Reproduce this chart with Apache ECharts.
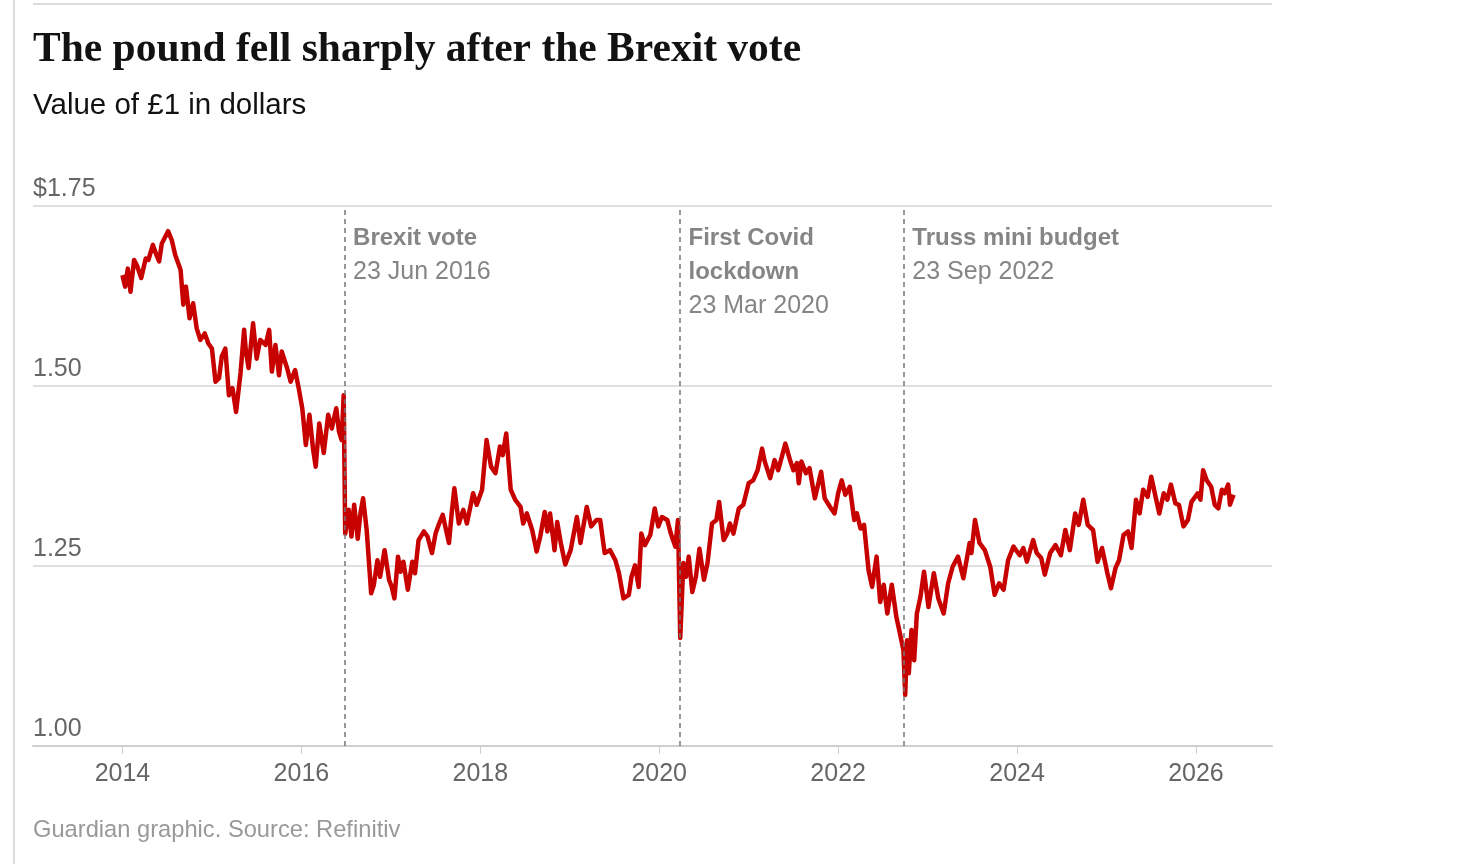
<!DOCTYPE html>
<html>
<head>
<meta charset="utf-8">
<title>The pound fell sharply after the Brexit vote</title>
<script src="https://cdn.jsdelivr.net/npm/echarts@6/dist/echarts.min.js"></script>
<style>
  html, body { margin: 0; padding: 0; background: #fff; }
  #chart { width: 1480px; height: 864px; }
</style>
</head>
<body>
<div id="chart"></div>
<script>
// decimal years
const years = [
  2014.00, 2014.03, 2014.06, 2014.09, 2014.13, 2014.16, 2014.21, 2014.26, 2014.29, 2014.34,
  2014.38, 2014.41, 2014.44, 2014.51, 2014.55, 2014.59, 2014.65, 2014.68, 2014.71, 2014.75,
  2014.79, 2014.83, 2014.87, 2014.92, 2014.96, 2015.00, 2015.04, 2015.08, 2015.11, 2015.15,
  2015.19, 2015.23, 2015.27, 2015.32, 2015.36, 2015.38, 2015.41, 2015.46, 2015.50, 2015.54,
  2015.60, 2015.64, 2015.67, 2015.71, 2015.75, 2015.78, 2015.84, 2015.88, 2015.93, 2015.97,
  2016.01, 2016.05, 2016.09, 2016.13, 2016.16, 2016.20, 2016.25, 2016.30, 2016.34, 2016.39,
  2016.42, 2016.45, 2016.473, 2016.49, 2016.53, 2016.56, 2016.59, 2016.63, 2016.66, 2016.69,
  2016.73, 2016.78, 2016.81, 2016.85, 2016.88, 2016.93, 2016.98, 2017.01, 2017.04, 2017.08,
  2017.11, 2017.14, 2017.19, 2017.24, 2017.27, 2017.31, 2017.37, 2017.41, 2017.46, 2017.50,
  2017.54, 2017.58, 2017.65, 2017.68, 2017.71, 2017.76, 2017.81, 2017.85, 2017.92, 2017.96,
  2018.02, 2018.07, 2018.12, 2018.17, 2018.22, 2018.25, 2018.29, 2018.34, 2018.39, 2018.45,
  2018.48, 2018.52, 2018.58, 2018.63, 2018.67, 2018.72, 2018.75, 2018.78, 2018.83, 2018.86,
  2018.90, 2018.95, 2019.01, 2019.08, 2019.12, 2019.19, 2019.24, 2019.30, 2019.34, 2019.39,
  2019.45, 2019.51, 2019.55, 2019.60, 2019.66, 2019.69, 2019.73, 2019.77, 2019.80, 2019.84,
  2019.90, 2019.95, 2019.99, 2020.03, 2020.09, 2020.13, 2020.18, 2020.21, 2020.235, 2020.27,
  2020.30, 2020.33, 2020.37, 2020.41, 2020.45, 2020.50, 2020.54, 2020.59, 2020.64, 2020.67,
  2020.72, 2020.76, 2020.79, 2020.83, 2020.89, 2020.94, 2021.00, 2021.05, 2021.10, 2021.15,
  2021.18, 2021.24, 2021.29, 2021.33, 2021.41, 2021.46, 2021.50, 2021.54, 2021.56, 2021.59,
  2021.64, 2021.68, 2021.74, 2021.81, 2021.85, 2021.91, 2021.96, 2022.00, 2022.04, 2022.08,
  2022.13, 2022.18, 2022.21, 2022.25, 2022.29, 2022.34, 2022.38, 2022.43, 2022.47, 2022.51,
  2022.55, 2022.60, 2022.65, 2022.69, 2022.73, 2022.75, 2022.77, 2022.79, 2022.82, 2022.85,
  2022.88, 2022.92, 2022.96, 2023.01, 2023.07, 2023.12, 2023.18, 2023.23, 2023.28, 2023.34,
  2023.40, 2023.47, 2023.49, 2023.53, 2023.58, 2023.64, 2023.70, 2023.75, 2023.80, 2023.85,
  2023.90, 2023.96, 2024.03, 2024.07, 2024.11, 2024.18, 2024.22, 2024.27, 2024.31, 2024.37,
  2024.43, 2024.49, 2024.54, 2024.59, 2024.65, 2024.69, 2024.74, 2024.79, 2024.85, 2024.90,
  2024.95, 2025.01, 2025.05, 2025.10, 2025.14, 2025.19, 2025.24, 2025.28, 2025.33, 2025.37,
  2025.41, 2025.46, 2025.50, 2025.54, 2025.59, 2025.64, 2025.68, 2025.72, 2025.77, 2025.81,
  2025.86, 2025.91, 2025.95, 2026.02, 2026.05, 2026.08, 2026.12, 2026.17, 2026.21, 2026.25,
  2026.29, 2026.32, 2026.36, 2026.38, 2026.42
];

// value of £1 in dollars
const rates = [
  1.654, 1.638, 1.663, 1.631, 1.675, 1.668, 1.650, 1.677, 1.675, 1.696,
  1.682, 1.673, 1.698, 1.715, 1.703, 1.682, 1.661, 1.613, 1.638, 1.594,
  1.615, 1.580, 1.564, 1.573, 1.559, 1.552, 1.506, 1.511, 1.541, 1.552,
  1.487, 1.497, 1.464, 1.518, 1.578, 1.548, 1.525, 1.587, 1.538, 1.564,
  1.557, 1.578, 1.520, 1.557, 1.515, 1.548, 1.525, 1.506, 1.522, 1.497,
  1.469, 1.418, 1.460, 1.413, 1.388, 1.448, 1.407, 1.460, 1.441, 1.469,
  1.437, 1.425, 1.487, 1.295, 1.328, 1.291, 1.335, 1.288, 1.323, 1.344,
  1.300, 1.212, 1.224, 1.258, 1.235, 1.272, 1.231, 1.221, 1.205, 1.263,
  1.242, 1.256, 1.217, 1.256, 1.240, 1.286, 1.298, 1.291, 1.268, 1.295,
  1.309, 1.321, 1.282, 1.323, 1.358, 1.309, 1.328, 1.309, 1.351, 1.335,
  1.356, 1.425, 1.388, 1.379, 1.416, 1.404, 1.434, 1.356, 1.342, 1.332,
  1.309, 1.323, 1.300, 1.270, 1.291, 1.325, 1.298, 1.323, 1.272, 1.311,
  1.282, 1.252, 1.272, 1.318, 1.282, 1.332, 1.305, 1.314, 1.314, 1.268,
  1.272, 1.258, 1.240, 1.205, 1.210, 1.235, 1.251, 1.221, 1.295, 1.279,
  1.293, 1.330, 1.305, 1.318, 1.314, 1.295, 1.277, 1.314, 1.150, 1.254,
  1.235, 1.263, 1.214, 1.235, 1.274, 1.231, 1.254, 1.309, 1.314, 1.339,
  1.286, 1.295, 1.309, 1.295, 1.330, 1.335, 1.365, 1.369, 1.383, 1.413,
  1.395, 1.372, 1.397, 1.383, 1.420, 1.398, 1.383, 1.393, 1.365, 1.395,
  1.379, 1.386, 1.344, 1.381, 1.344, 1.332, 1.323, 1.351, 1.369, 1.349,
  1.360, 1.314, 1.323, 1.302, 1.307, 1.244, 1.221, 1.263, 1.200, 1.224,
  1.184, 1.224, 1.180, 1.157, 1.133, 1.071, 1.147, 1.101, 1.161, 1.119,
  1.184, 1.207, 1.242, 1.193, 1.240, 1.205, 1.184, 1.226, 1.249, 1.263,
  1.233, 1.282, 1.268, 1.314, 1.282, 1.272, 1.249, 1.210, 1.226, 1.217,
  1.258, 1.277, 1.265, 1.275, 1.256, 1.286, 1.268, 1.261, 1.238, 1.268,
  1.279, 1.265, 1.300, 1.272, 1.323, 1.307, 1.342, 1.307, 1.300, 1.256,
  1.275, 1.240, 1.219, 1.247, 1.258, 1.293, 1.298, 1.275, 1.342, 1.323,
  1.356, 1.346, 1.374, 1.351, 1.323, 1.351, 1.342, 1.363, 1.337, 1.335,
  1.305, 1.314, 1.339, 1.351, 1.342, 1.383, 1.369, 1.360, 1.335, 1.330,
  1.356, 1.351, 1.363, 1.335, 1.349
];

const yearTicks = [2014, 2016, 2018, 2020, 2022, 2024, 2026];

// events marked with dashed lines
const eventX = [2016.477, 2020.227, 2022.729];
const eventTitles = ['Brexit vote', 'First Covid\nlockdown', 'Truss mini budget'];
const eventDates = ['23 Jun 2016', '23 Mar 2020', '23 Sep 2022'];

const sans = 'Liberation Sans, Arial, sans-serif';
const grey = '#666666';

const chart = echarts.init(document.getElementById('chart'));

const linePoints = years.map((y, i) => [y, rates[i]]);

const eventLabels = eventX.map((x, i) => ({
  value: [x, 1.75],
  label: {
    formatter: eventTitles[i].split('\n').map(t => '{b|' + t + '}').join('\n') +
      '\n{d|' + eventDates[i] + '}'
  }
}));

const option = {
  backgroundColor: '#fff',
  animation: false,
  title: [
    {
      text: 'The pound fell sharply after the Brexit vote',
      left: 33,
      top: 29,
      padding: 0,
      textStyle: {
        fontFamily: 'Liberation Serif, serif',
        fontWeight: 'bold',
        fontSize: 41.5,
        color: '#121212'
      }
    },
    {
      text: 'Value of £1 in dollars',
      left: 33,
      top: 91,
      padding: 0,
      textStyle: { fontFamily: sans, fontWeight: 'normal', fontSize: 29.5, color: '#121212' }
    },
    {
      text: 'Guardian graphic. Source: Refinitiv',
      left: 33,
      top: 818,
      padding: 0,
      textStyle: { fontFamily: sans, fontWeight: 'normal', fontSize: 23.7, color: '#999' }
    }
  ],
  graphic: [
    {
      type: 'line',
      shape: { x1: 14, y1: 0, x2: 14, y2: 864 },
      style: { stroke: '#dcdcdc', lineWidth: 2 }
    },
    {
      type: 'line',
      shape: { x1: 33, y1: 4, x2: 1272, y2: 4 },
      style: { stroke: '#dcdcdc', lineWidth: 2 }
    }
  ],
  grid: { left: 33, right: 208, top: 206, bottom: 118 },
  xAxis: {
    type: 'value',
    min: 2013,
    max: 2026.85,
    splitLine: { show: false },
    axisLine: { lineStyle: { color: '#cfcfcf', width: 2 } },
    axisTick: { show: true, customValues: yearTicks, length: 8, lineStyle: { color: '#cfcfcf' } },
    axisLabel: {
      customValues: yearTicks,
      margin: 16,
      fontFamily: sans,
      fontSize: 25,
      color: grey,
      formatter: v => String(Math.round(v))
    }
  },
  yAxis: {
    type: 'value',
    min: 1,
    max: 1.75,
    interval: 0.25,
    axisLine: { show: false },
    axisTick: { show: false },
    splitLine: { lineStyle: { color: '#d6d6d6', width: 1.5 } },
    axisLabel: {
      inside: true,
      margin: 0,
      verticalAlign: 'bottom',
      padding: [0, 0, 4, 0],
      fontFamily: sans,
      fontSize: 25,
      color: grey,
      formatter: v => (v === 1.75 ? '$' : '') + v.toFixed(2)
    }
  },
  series: [
    {
      type: 'line',
      data: linePoints,
      showSymbol: false,
      lineStyle: { color: '#c70000', width: 4.5, join: 'round' },
      z: 3,
      markLine: {
        silent: true,
        symbol: 'none',
        label: { show: false },
        lineStyle: { color: '#777', type: [5, 4], width: 1.5 },
        data: eventX.map(x => ({ xAxis: x })),
        z: 4
      }
    },
    {
      type: 'scatter',
      data: eventLabels,
      symbolSize: 0,
      silent: true,
      z: 5,
      label: {
        show: true,
        position: [9, 15],
        align: 'left',
        verticalAlign: 'top',
        rich: {
          b: { fontFamily: sans, fontWeight: 'bold', fontSize: 24, color: grey, lineHeight: 34 },
          d: { fontFamily: sans, fontSize: 25, color: grey, lineHeight: 34 }
        }
      }
    }
  ]
};

chart.setOption(option);
</script>
</body>
</html>
